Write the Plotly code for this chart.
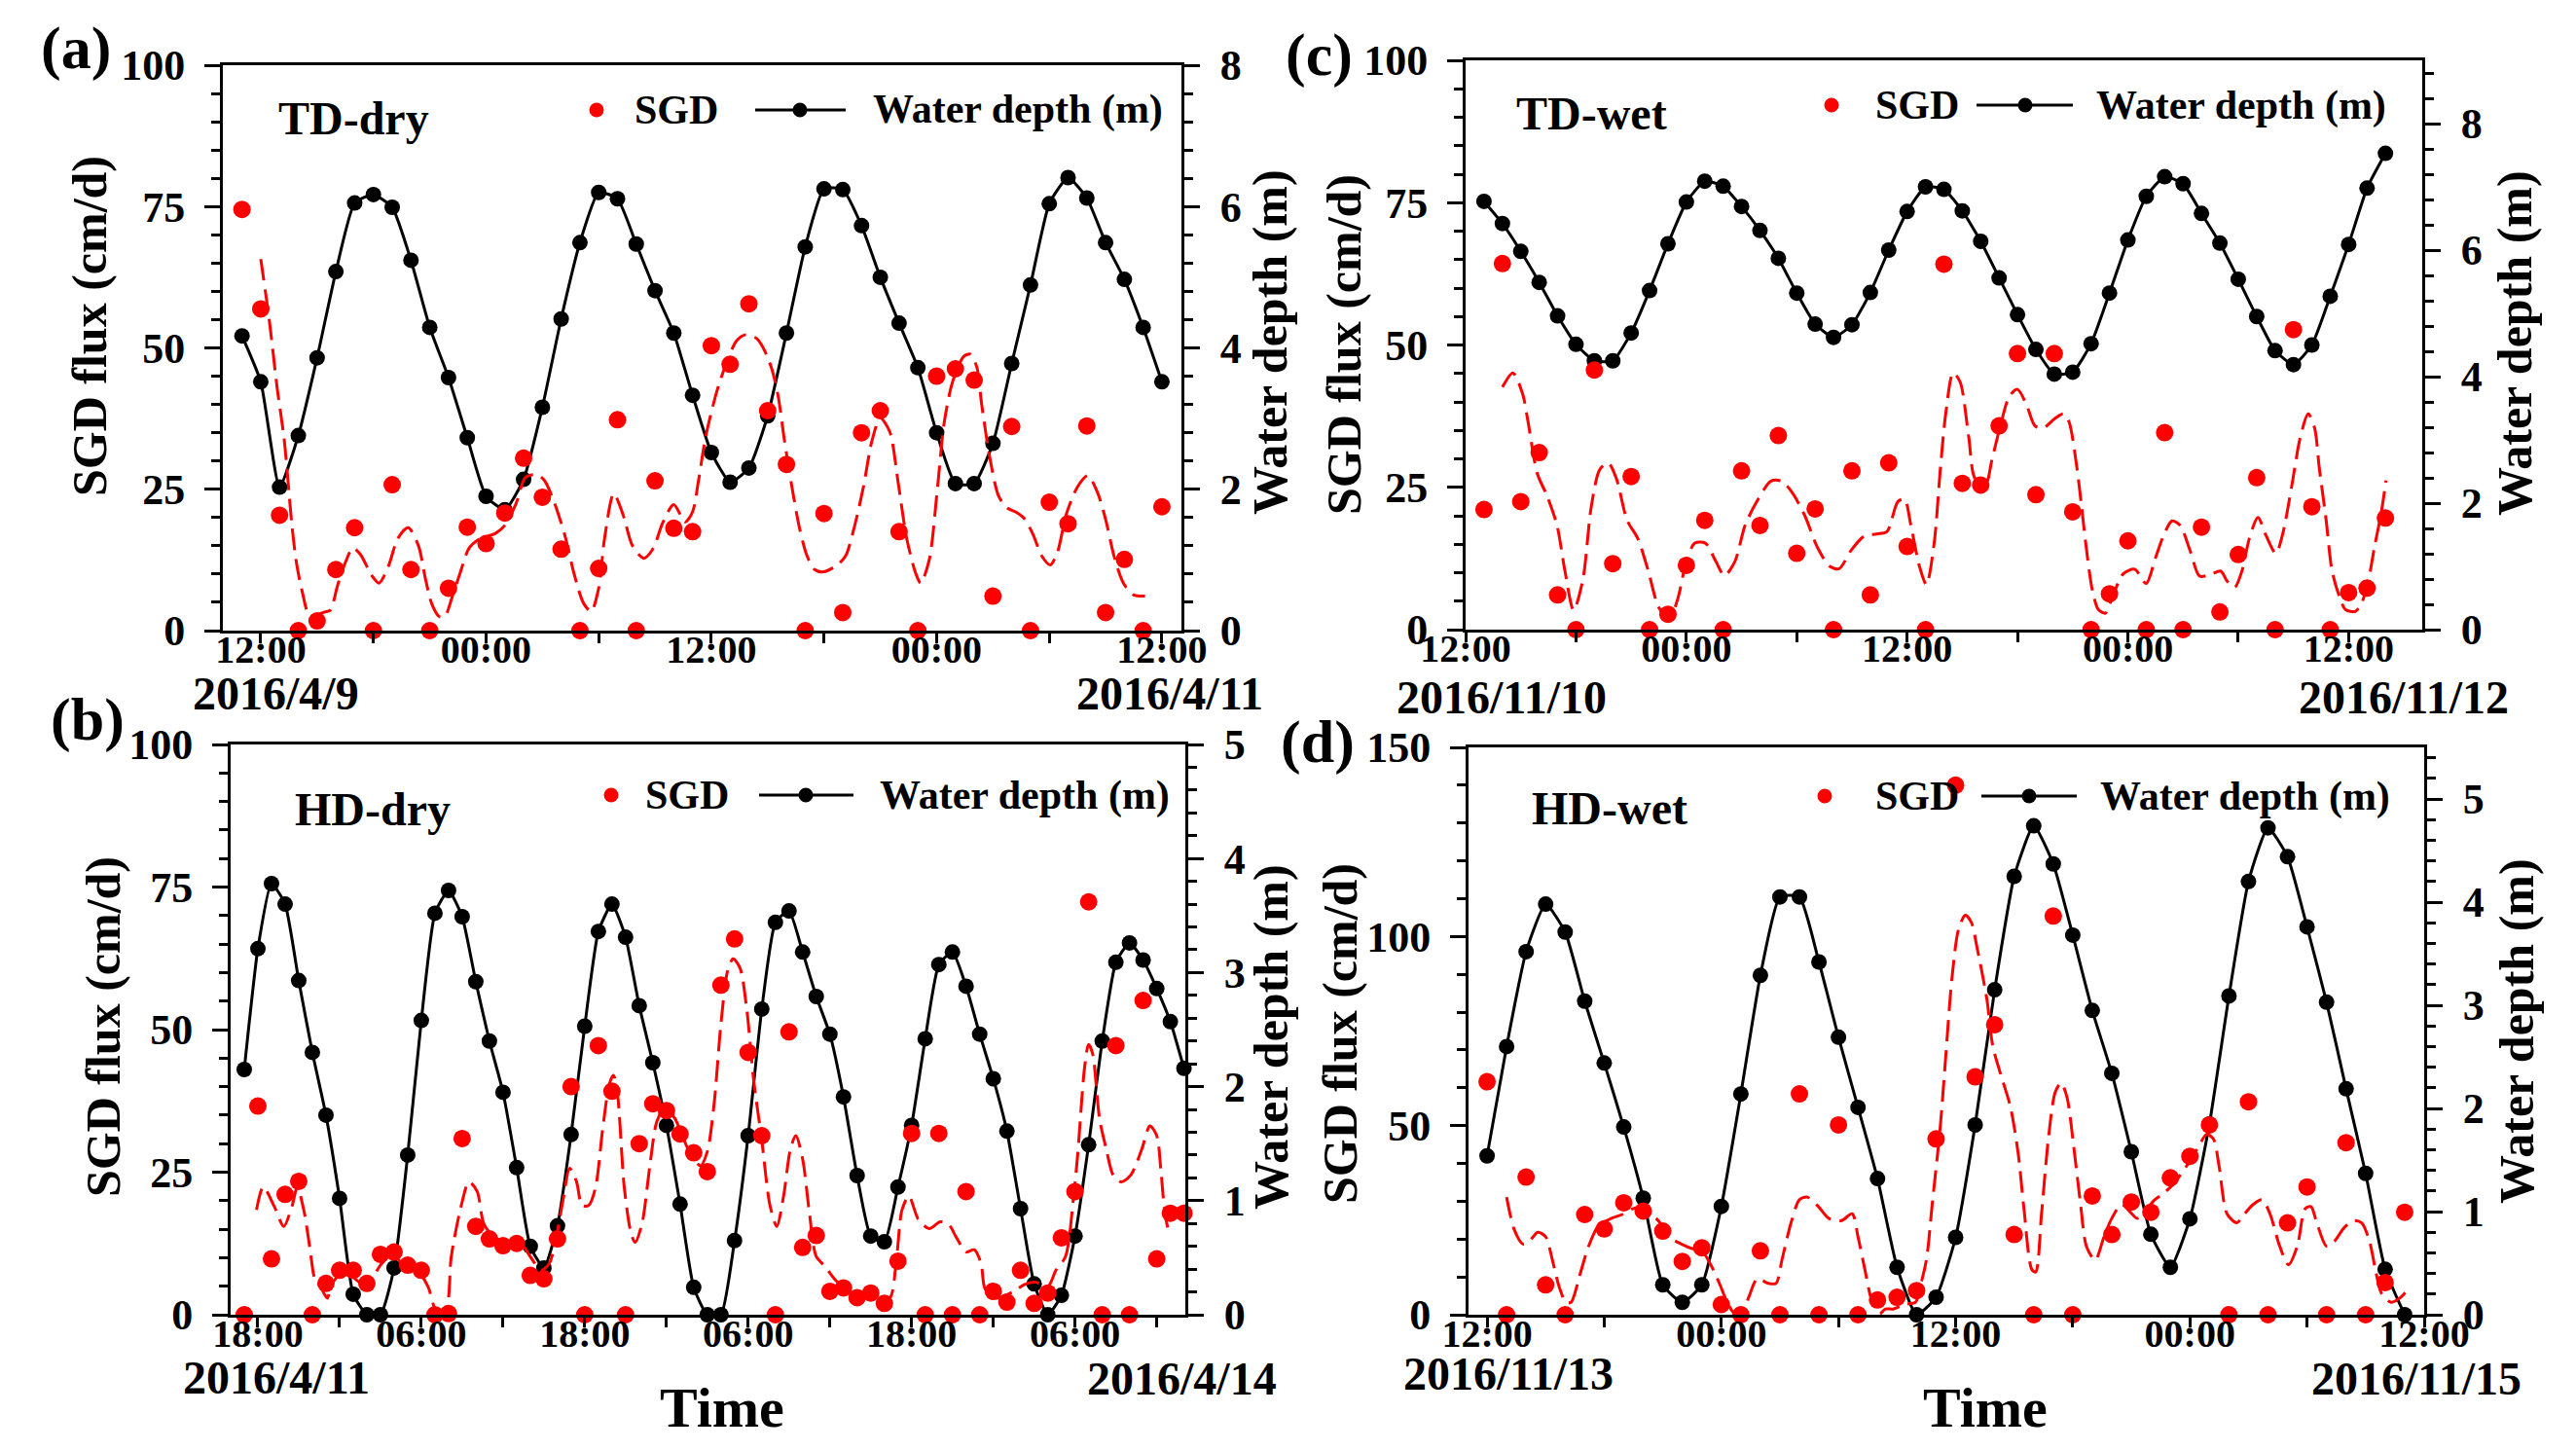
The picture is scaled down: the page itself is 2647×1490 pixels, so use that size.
import plotly.graph_objects as go

FONT = "Liberation Serif"
W, H = 2647, 1490
RED = "#ff0000"
BLACK = "#000000"

# ---------------- (a) TD-dry : hours after 2016/4/9 12:00 ----------------
a_hours = list(range(-1, 49))
a_depth = [4.17, 3.52, 2.03, 2.76, 3.86, 5.08, 6.05, 6.17, 5.99, 5.24,
           4.29, 3.58, 2.73, 1.90, 1.71, 2.14, 3.16, 4.41, 5.49, 6.20,
           6.11, 5.47, 4.81, 4.21, 3.33, 2.52, 2.10, 2.30, 3.04, 4.21,
           5.43, 6.25, 6.24, 5.73, 5.00, 4.35, 3.72, 2.80, 2.08, 2.08,
           2.65, 3.78, 4.89, 6.04, 6.41, 6.12, 5.49, 4.97, 4.29, 3.52]
a_sgd = [74.5, 56.9, 20.4, 0, 1.7, 10.8, 18.2, 0, 25.8, 10.8,
         0, 7.5, 18.3, 15.4, 20.8, 30.5, 23.6, 14.4, 0, 11.0,
         37.3, 0, 26.5, 18.1, 17.5, 50.4, 47.1, 57.8, 38.9, 29.4,
         0, 20.7, 3.2, 35.0, 38.9, 17.5, 0, 45.0, 46.3, 44.3,
         6.1, 36.1, 0, 22.7, 18.9, 36.2, 3.2, 12.6, 0, 21.9]
a_smooth = [(0.0, 65.7), (0.45, 55), (0.88, 42.7), (1.24, 34), (1.66, 18.6), (1.9, 12),
            (2.2, 7), (2.6, 2.6), (3.0, 2.8), (3.4, 3.3), (3.7, 3.6), (4.1, 8.1), (4.5, 12),
            (4.9, 14.6), (5.3, 13.5), (5.9, 9.8), (6.3, 8.4), (6.8, 11.4), (7.3, 16.3),
            (7.85, 18.2), (8.4, 15), (8.75, 9.5), (9.1, 4.8), (9.5, 2.5), (9.8, 2.5),
            (10.2, 6), (10.6, 10), (11.1, 14.6), (11.7, 16.3), (12.5, 17.2), (13.0, 18.6),
            (13.6, 22.5), (14.1, 27.1), (14.7, 27.6), (15.1, 26.6), (15.6, 23), (16.2, 16.8),
            (16.7, 9.9), (17.2, 4.8), (17.6, 3.4), (18.0, 7.5), (18.3, 16), (18.8, 24.2),
            (19.3, 20.5), (19.8, 15), (20.4, 12.8), (20.9, 14.5), (21.4, 19), (22.0, 22.3),
            (22.6, 19.2), (23.0, 21), (23.3, 26.2), (23.7, 34.3), (24.3, 42.4), (24.8, 47.3),
            (25.35, 51.3), (25.8, 52.3), (26.4, 51.7), (26.75, 50.1), (27.2, 46.5),
            (27.55, 41.6), (27.9, 33.5), (28.25, 26.2), (28.7, 18.1), (29.1, 13.2),
            (29.5, 10.8), (30.0, 10.4), (30.7, 11.6), (31.15, 13.2), (31.6, 18.1),
            (32.1, 25.4), (32.55, 33.5), (33.0, 37.6), (33.5, 35.2), (33.95, 26.2),
            (34.4, 16.4), (34.9, 10), (35.15, 8.4), (35.6, 12.4), (36.05, 25.4),
            (36.4, 36.7), (36.85, 44.0), (37.45, 48.5), (37.8, 48.9), (38.15, 46.5),
            (38.4, 40), (38.85, 30.3), (39.3, 23.8), (39.75, 21.7), (40.25, 20.9),
            (40.7, 19.7), (41.15, 16.9), (41.6, 13.2), (42.05, 11.6), (42.45, 14),
            (42.9, 20.5), (43.5, 25.4), (44.05, 27.4), (44.55, 24.6), (45.0, 19.7),
            (45.45, 13.2), (45.95, 8.4), (46.5, 6.3), (47.1, 6.1)]
a_tickvals = [0, 6, 12, 18, 24, 30, 36, 42, 48]
a_ticktext = ["12:00", "", "00:00", "", "12:00", "", "00:00", "", "12:00"]

# ---------------- (b) HD-dry : hours after 2016/4/11 00:00 ----------------
b_hours = list(range(17, 87))
b_depth = [2.15, 3.21, 3.78, 3.60, 2.93, 2.30, 1.75, 1.02, 0.18, 0.0,
           0.0, 0.41, 1.40, 2.58, 3.52, 3.72, 3.49, 2.92, 2.40, 1.95,
           1.29, 0.60, 0.41, 0.78, 1.58, 2.53, 3.36, 3.60, 3.31, 2.71,
           2.21, 1.66, 0.97, 0.24, 0.0, 0.0, 0.65, 1.57, 2.68, 3.44,
           3.54, 3.18, 2.79, 2.46, 1.91, 1.22, 0.69, 0.64, 1.12, 1.66,
           2.42, 3.07, 3.18, 2.88, 2.46, 2.07, 1.61, 0.93, 0.27, 0.0,
           0.17, 0.69, 1.49, 2.40, 3.09, 3.26, 3.11, 2.86, 2.57, 2.16]
b_sgd = [0, 36.6, 9.8, 21.1, 23.4, 0, 5.5, 7.8, 7.8, 5.5,
         10.6, 11.0, 8.7, 7.8, 0, 0.2, 30.9, 15.5, 13.3, 12.1,
         12.5, 6.9, 6.3, 13.3, 40.0, 0, 47.2, 39.2, 0, 30.0,
         37.0, 35.8, 31.7, 28.4, 25.1, 57.8, 65.9, 46.0, 31.4, 0,
         49.6, 11.8, 13.9, 4.1, 4.7, 3.0, 3.8, 2.0, 9.4, 31.8,
         0, 31.8, 0, 21.6, 0, 4.1, 2.2, 7.8, 2.0, 3.8,
         13.5, 21.6, 72.4, 0, 47.2, 0, 55.1, 9.8, 17.8, 17.8]
b_smooth = [(17.9, 18.4), (18.4, 22.4), (19.2, 19), (19.9, 15.5), (20.5, 19), (20.9, 22.4),
            (21.4, 18), (21.8, 12), (22.2, 6.1), (22.6, 4.9), (23.1, 2.9), (23.4, 5.3),
            (24.2, 7.3), (25.0, 6.5), (25.8, 5.3), (26.5, 6.9), (27.1, 9.0), (27.9, 10.6),
            (28.7, 8.6), (29.7, 7.8), (30.5, 4.9), (31.1, 0.8), (31.8, 1.2), (32.2, 10.2),
            (32.9, 18.8), (33.5, 23.3), (34.1, 21.6), (34.6, 15.9), (35.4, 13.5), (36.4, 12.7),
            (37.4, 12.2), (38.0, 10.2), (38.8, 7.8), (39.4, 9.0), (39.9, 13.5), (40.4, 20.0),
            (40.9, 25.7), (41.4, 23.3), (41.8, 19.2), (42.3, 19.2), (42.8, 22.4), (43.3, 32.2),
            (43.8, 40.4), (44.1, 42.0), (44.4, 38.8), (44.9, 22.4), (45.4, 14.3), (45.7, 12.7),
            (46.2, 15.9), (46.8, 26.5), (47.3, 33.9), (47.9, 36.3), (48.6, 34.5), (49.6, 29),
            (50.5, 26.1), (51.0, 28.6), (51.5, 37), (52.0, 51), (52.5, 60.4), (52.9, 62.4),
            (53.4, 60.8), (53.9, 53.5), (54.4, 41.2), (55.0, 30.6), (55.6, 19.2), (56.1, 15.5),
            (56.6, 20.8), (57.1, 29), (57.5, 31.4), (58.0, 27.3), (58.5, 17.8), (59.0, 10.2),
            (59.6, 8.6), (60.4, 6.1), (61.0, 4.9), (61.7, 3.7), (62.6, 3.3), (63.6, 2.4),
            (64.4, 2.9), (64.9, 10), (65.3, 18.4), (65.8, 20.8), (66.5, 16.7), (67.3, 15.1),
            (68.1, 16.3), (68.7, 15.9), (69.3, 13.5), (70.0, 11.0), (70.6, 11.4), (71.1, 9.0),
            (71.4, 4.5), (72.2, 2.9), (72.8, 3.3), (73.5, 4.1), (74.3, 5.3), (75.1, 5.7),
            (76.0, 4.9), (76.6, 7.8), (77.3, 10.2), (77.9, 20.8), (78.2, 28.2), (78.7, 43.3),
            (79.0, 47.4), (79.3, 45.7), (79.8, 34.4), (80.3, 29.0), (80.8, 24.5), (81.4, 23.3),
            (82.1, 24.5), (82.9, 29.0), (83.5, 33.1), (84.0, 31.4), (84.3, 25.5), (84.6, 17.8),
            (84.9, 14.3)]
b_tickvals = [18, 24, 30, 36, 42, 48, 54, 60, 66, 72, 78, 84]
b_ticktext = ["18:00", "", "06:00", "", "18:00", "", "06:00", "", "18:00", "", "06:00", ""]

# ---------------- (c) TD-wet : hours after 2016/11/10 12:00 ----------------
c_hours = list(range(1, 51))
c_depth = [6.77, 6.42, 5.98, 5.49, 4.96, 4.51, 4.25, 4.25, 4.69, 5.36,
           6.10, 6.76, 7.09, 7.01, 6.69, 6.31, 5.87, 5.32, 4.83, 4.62,
           4.82, 5.33, 6.00, 6.61, 7.00, 6.96, 6.62, 6.14, 5.56, 4.98,
           4.43, 4.04, 4.07, 4.52, 5.32, 6.16, 6.85, 7.16, 7.05, 6.58,
           6.11, 5.54, 4.95, 4.41, 4.19, 4.50, 5.27, 6.09, 6.98, 7.53]
c_sgd = [21.1, 64.3, 22.5, 31.1, 6.1, 0, 45.6, 11.6, 26.9, 0,
         2.7, 11.3, 19.2, 0, 27.9, 18.3, 34.1, 13.4, 21.2, 0,
         27.9, 6.1, 29.3, 14.6, 0, 64.2, 25.7, 25.4, 35.8, 48.5,
         23.7, 48.5, 20.7, 0, 6.3, 15.6, 0, 34.6, 0, 18.0,
         3.1, 13.2, 26.7, 0, 52.7, 21.6, 0, 6.5, 7.3, 19.6]
c_smooth = [(2.0, 42.6), (2.57, 45.1), (3.1, 41.4), (3.39, 36.6), (3.9, 27.4), (4.44, 23.4),
            (4.97, 18.3), (5.4, 10.3), (5.87, 3.4), (6.37, 8.7), (6.83, 21.6), (7.29, 28.1),
            (7.75, 29.3), (8.2, 26.5), (8.78, 19.2), (9.36, 16), (9.93, 10.3), (10.5, 3.9),
            (11.08, 1.9), (11.54, 5.5), (12.0, 12), (12.46, 15.2), (13.03, 15.2), (13.6, 12),
            (14.07, 9.5), (14.64, 12), (15.2, 18.4), (15.9, 22.9), (16.6, 26.1), (17.17, 26.1),
            (17.75, 24.1), (18.44, 20), (19.13, 14.4), (19.8, 11.1), (20.3, 10.7), (20.97, 14),
            (21.66, 16.4), (22.34, 16.8), (22.9, 17.2), (23.5, 22.5), (23.86, 22.9), (24.2, 18.4),
            (24.67, 11.1), (25.05, 7.9), (25.47, 15.2), (25.8, 28), (26.1, 38), (26.5, 45.1),
            (26.88, 43.5), (27.35, 33.8), (27.7, 26.5), (28.28, 25.7), (28.6, 29.7), (29.1, 36.2),
            (29.56, 41.0), (30.0, 42.2), (30.5, 39.4), (30.95, 35.8), (31.4, 35.4), (32.0, 37.0),
            (32.5, 37.9), (32.8, 36.5), (33.2, 29.1), (33.46, 22.3), (33.7, 15.4), (34.07, 6.9),
            (34.4, 3.5), (34.78, 2.9), (35.1, 5.2), (35.75, 9.8), (36.37, 10.6), (36.99, 8.1),
            (37.5, 12.6), (37.95, 16.6), (38.4, 19.1), (38.84, 18.3), (39.4, 13.7), (39.9, 9.4),
            (40.5, 9.7), (41.04, 10.3), (41.4, 8.5), (41.8, 7.4), (42.2, 10.3), (42.6, 16),
            (43.07, 19.7), (43.5, 16.6), (44.04, 13.4), (44.4, 16.6), (44.9, 25.1), (45.36, 33.6),
            (45.8, 37.9), (46.15, 35.4), (46.4, 28.5), (46.77, 19.4), (47.1, 10.3), (47.5, 5.8),
            (47.83, 3.5), (48.36, 3.2), (48.7, 4.6), (49.07, 8.6), (49.42, 14.8), (49.77, 20.5),
            (50.03, 26.2)]
c_tickvals = [0, 6, 12, 18, 24, 30, 36, 42, 48]
c_ticktext = ["12:00", "", "00:00", "", "12:00", "", "00:00", "", "12:00"]

# ---------------- (d) HD-wet : hours after 2016/11/13 12:00 ----------------
d_hours = list(range(0, 48))
d_depth = [1.54, 2.60, 3.52, 3.98, 3.71, 3.04, 2.44, 1.82, 1.13, 0.29,
           0.12, 0.29, 1.05, 2.14, 3.29, 4.05, 4.05, 3.42, 2.69, 2.01,
           1.32, 0.46, 0.0, 0.17, 0.75, 1.84, 3.15, 4.25, 4.74, 4.37,
           3.68, 2.95, 2.34, 1.58, 0.78, 0.46, 0.93, 1.85, 3.09, 4.20,
           4.72, 4.44, 3.76, 3.03, 2.19, 1.37, 0.44, 0.0]
d_sgd = [61.6, 0, 36.4, 7.9, 0, 26.5, 22.7, 29.6, 27.4, 22.1,
         14.1, 17.7, 2.7, 0, 16.9, 0, 58.4, 0, 50.2, 0,
         3.9, 4.6, 6.4, 46.5, 140, 62.9, 76.7, 21.2, 0, 105.4,
         0, 31.4, 21.2, 29.8, 27.1, 36.2, 41.9, 50.2, 0, 56.3,
         0, 24.3, 33.8, 0, 45.5, 0, 8.5, 27.1]
d_smooth = [(1.0, 31.1), (1.4, 22.4), (1.84, 18.7), (2.16, 19.4), (2.6, 21.8), (3.0, 20.6),
            (3.35, 14.4), (3.68, 7.6), (4.04, 3.3), (4.3, 3.3), (4.76, 10.7), (5.2, 18.1),
            (5.73, 23.7), (6.38, 25.5), (6.92, 26.5), (7.46, 28), (8.0, 28.6), (8.43, 26.7),
            (8.86, 24.3), (9.3, 20.6), (9.95, 18.7), (10.5, 17.5), (11.0, 16.9), (11.46, 13.2),
            (11.9, 8.3), (12.3, 3.3), (12.7, 0.2), (13.1, 0.9), (13.4, 4.6), (13.84, 9.5),
            (14.4, 8.3), (14.8, 8.3), (15.1, 14.4), (15.57, 24.3), (16.0, 30.4), (16.4, 31.1),
            (16.97, 28.6), (17.5, 25.5), (18.16, 24.9), (18.7, 26.7), (19.0, 20.6), (19.35, 12),
            (19.7, 3.9), (20.1, 0.2), (20.4, 1.5), (20.8, 1.5), (21.4, 2.7), (21.95, 3.3),
            (22.1, 5.8), (22.5, 14.4), (22.8, 29.2), (23.2, 48.9), (23.5, 68.7), (23.8, 88.4),
            (24.15, 101.9), (24.5, 105.6), (24.8, 103.8), (25.1, 97), (25.6, 83.4), (25.9, 71.1),
            (26.3, 63.7), (26.8, 55.1), (27.2, 42.8), (27.5, 28), (27.9, 12), (28.1, 11.3),
            (28.4, 26.7), (28.75, 46.5), (29.1, 58.8), (29.4, 61.3), (29.7, 57.6), (30.06, 44),
            (30.4, 29.2), (30.7, 18.1), (31.15, 14.4), (31.6, 20.6), (32.0, 25.5), (32.5, 29.2),
            (32.9, 27.4), (33.3, 25.5), (33.8, 28), (34.2, 30.4), (34.7, 32.3), (35.2, 34.8),
            (35.8, 39.1), (36.4, 44), (36.85, 47.7), (37.2, 46.5), (37.5, 39.1), (37.9, 26.7),
            (38.4, 24.3), (38.8, 26.7), (39.25, 29.2), (39.7, 30.4), (40.1, 26.7), (40.6, 18.1),
            (41.05, 13.2), (41.5, 18.1), (41.9, 28), (42.2, 28.6), (42.5, 24.3), (43.0, 18.1),
            (43.4, 19.4), (43.9, 23), (44.4, 24.9), (44.8, 24.3), (45.2, 19.4), (45.5, 12),
            (45.8, 5.8), (46.3, 3.3), (46.8, 4.6), (47.2, 7)]
d_tickvals = [0, 6, 12, 18, 24, 30, 36, 42, 48]
d_ticktext = ["12:00", "", "00:00", "", "12:00", "", "00:00", "", "12:00"]

# ---------------- layout helpers ----------------
def px(x):
    return x / W


def py(y):
    return 1 - y / H


panels = [
    dict(label="(a)", title="TD-dry", hours=a_hours, depth=a_depth, sgd=a_sgd, smooth=a_smooth,
         tv=a_tickvals, tt=a_ticktext, box=(229, 1214, 67, 648), xr=[-2.02, 49.04],
         sgd_r=[0, 100], sgd_dt=25, sgd_mn=5, dep_r=[0, 8], dep_dt=2, dep_mn=0.4),
    dict(label="(b)", title="HD-dry", hours=b_hours, depth=b_depth, sgd=b_sgd, smooth=b_smooth,
         tv=b_tickvals, tt=b_ticktext, box=(237, 1218, 765, 1351), xr=[16.0, 86.1],
         sgd_r=[0, 100], sgd_dt=25, sgd_mn=5, dep_r=[0, 5], dep_dt=1, dep_mn=0.2),
    dict(label="(c)", title="TD-wet", hours=c_hours, depth=c_depth, sgd=c_sgd, smooth=c_smooth,
         tv=c_tickvals, tt=c_ticktext, box=(1506, 2489, 62, 647), xr=[0, 52],
         sgd_r=[0, 100], sgd_dt=25, sgd_mn=5, dep_r=[0, 9], dep_dt=2, dep_mn=0.4),
    dict(label="(d)", title="HD-wet", hours=d_hours, depth=d_depth, sgd=d_sgd, smooth=d_smooth,
         tv=d_tickvals, tt=d_ticktext, box=(1509, 2491, 768, 1351), xr=[-0.95, 48],
         sgd_r=[0, 150], sgd_dt=50, sgd_mn=10, dep_r=[0, 5.5], dep_dt=1, dep_mn=0.2),
]

fig = go.Figure()
layout = dict(width=W, height=H, autosize=False,
              margin=dict(l=0, r=0, t=0, b=0, pad=0, autoexpand=False),
              paper_bgcolor="white", plot_bgcolor="white", showlegend=False,
              font=dict(family=FONT, color=BLACK))

ytick_font = dict(family=FONT, size=44, color=BLACK, weight="bold")
xtick_font = dict(family=FONT, size=40, color=BLACK, weight="bold")

for i, p in enumerate(panels):
    xi = i + 1
    yi1 = 2 * i + 1
    yi2 = 2 * i + 2
    xname = "x" if xi == 1 else f"x{xi}"
    y1name = "y" if yi1 == 1 else f"y{yi1}"
    y2name = f"y{yi2}"
    x0, x1, ytop, ybot = p["box"]
    xdom = [px(x0), px(x1)]
    ydom = [py(ybot), py(ytop)]

    layout["xaxis" if xi == 1 else f"xaxis{xi}"] = dict(
        domain=xdom, anchor=y1name, range=p["xr"], tickmode="array", automargin=False,
        tickvals=p["tv"], ticktext=p["tt"], ticks="outside", ticklen=10, tickwidth=3,
        tickcolor=BLACK, showline=True, mirror=True, linewidth=3, linecolor=BLACK,
        showgrid=False, zeroline=False, tickfont=xtick_font, ticklabelstandoff=-28)
    # depth axis (right side, primary)
    layout["yaxis" if yi1 == 1 else f"yaxis{yi1}"] = dict(
        domain=ydom, anchor=xname, side="right", range=p["dep_r"], tick0=0, dtick=p["dep_dt"],
        automargin=False,
        ticks="outside", ticklen=16, tickwidth=3, tickcolor=BLACK, showline=True, linewidth=3,
        linecolor=BLACK, showgrid=False, zeroline=False, tickfont=ytick_font,
        ticklabelstandoff=12,
        minor=dict(dtick=p["dep_mn"], ticks="outside", ticklen=9, tickwidth=3,
                   tickcolor=BLACK, showgrid=False))
    # SGD axis (left side, overlaying)
    layout[f"yaxis{yi2}"] = dict(
        overlaying=y1name, anchor=xname, side="left", range=p["sgd_r"], tick0=0, dtick=p["sgd_dt"],
        automargin=False,
        ticks="outside", ticklen=16, tickwidth=3, tickcolor=BLACK, showline=True, linewidth=3,
        linecolor=BLACK, showgrid=False, zeroline=False, tickfont=ytick_font,
        ticklabelstandoff=11,
        minor=dict(dtick=p["sgd_mn"], ticks="outside", ticklen=9, tickwidth=3,
                   tickcolor=BLACK, showgrid=False))

    fig.add_trace(go.Scatter(
        x=p["hours"], y=p["depth"], mode="lines+markers", name="Water depth (m)",
        line=dict(color=BLACK, width=3, shape="spline", smoothing=0.5),
        marker=dict(color=BLACK, size=16), cliponaxis=False, xaxis=xname, yaxis=y1name))
    st = [t for t, v in p["smooth"]]
    sv = [v for t, v in p["smooth"]]
    fig.add_trace(go.Scatter(
        x=st, y=sv, mode="lines", name="SGD trend",
        line=dict(color=RED, width=3, dash="22px,9px", shape="spline", smoothing=0.8),
        xaxis=xname, yaxis=y2name))
    fig.add_trace(go.Scatter(
        x=p["hours"], y=p["sgd"], mode="markers", name="SGD",
        marker=dict(color=RED, size=18), cliponaxis=False, xaxis=xname, yaxis=y2name))

annotations = []
shapes = []


def text(s, x, y, size, angle=0, xanchor="center"):
    annotations.append(dict(
        text=s, x=px(x), y=py(y), xref="paper", yref="paper", showarrow=False,
        xanchor=xanchor, yanchor="middle", textangle=angle,
        font=dict(family=FONT, size=size, color=BLACK, weight="bold")))


# panel labels
text("(a)", 78, 50, 62)
text("(b)", 90, 740, 62)
text("(c)", 1355, 57, 62)
text("(d)", 1354, 762, 62)
# panel titles
text("TD-dry", 363, 122, 48)
text("HD-dry", 383, 832, 48)
text("TD-wet", 1635, 116, 48)
text("HD-wet", 1654, 831, 48)
# axis titles
text("SGD flux (cm/d)", 92, 335, 50, -90)
text("SGD flux (cm/d)", 106, 1055, 50, -90)
text("SGD flux (cm/d)", 1381, 354, 50, -90)
text("SGD flux (cm/d)", 1377, 1062, 50, -90)
text("Water depth (m)", 1305, 352, 50, -90)
text("Water depth (m)", 1306, 1066, 50, -90)
text("Water depth (m)", 2584, 353, 50, -90)
text("Water depth (m)", 2586, 1060, 50, -90)
text("Time", 742, 1446, 58)
text("Time", 2040, 1446, 58)
# date labels
text("2016/4/9", 283, 713, 48)
text("2016/4/11", 1202, 713, 48)
text("2016/11/10", 1543, 716, 48)
text("2016/11/12", 2470, 716, 48)
text("2016/4/11", 284, 1415, 48)
text("2016/4/14", 1214, 1416, 48)
text("2016/11/13", 1550, 1411, 48)
text("2016/11/15", 2483, 1416, 48)

# legends: (red dot x, SGD text x, line x0, line x1, black dot x, text x, y)
legend_pos = [(613, 650, 776, 869, 822, 895, 113),
              (628, 661, 780, 877, 828, 902, 817),
              (1882, 1925, 2031, 2130, 2081, 2152, 108),
              (1875, 1925, 2036, 2134, 2085, 2156, 818)]


def circle(cx, cy, r, color):
    shapes.append(dict(type="circle", xref="paper", yref="paper",
                       x0=px(cx - r), x1=px(cx + r), y0=py(cy + r), y1=py(cy - r),
                       fillcolor=color, line=dict(width=0)))


for rd, sx, l0, l1, bd, tx, yy in legend_pos:
    circle(rd, yy, 7.5, RED)
    text("SGD", sx, yy, 42, xanchor="left")
    shapes.append(dict(type="line", xref="paper", yref="paper", x0=px(l0), x1=px(l1),
                       y0=py(yy), y1=py(yy), line=dict(color=BLACK, width=3)))
    circle(bd, yy, 7.5, BLACK)
    text("Water depth (m)", tx, yy, 42, xanchor="left")

layout["annotations"] = annotations
layout["shapes"] = shapes
fig.update_layout(**layout)

fig.write_html("out.html", include_plotlyjs=True,
               config={"displayModeBar": False, "responsive": False},
               post_script="document.body.style.margin='0';document.body.style.overflow='hidden';")
